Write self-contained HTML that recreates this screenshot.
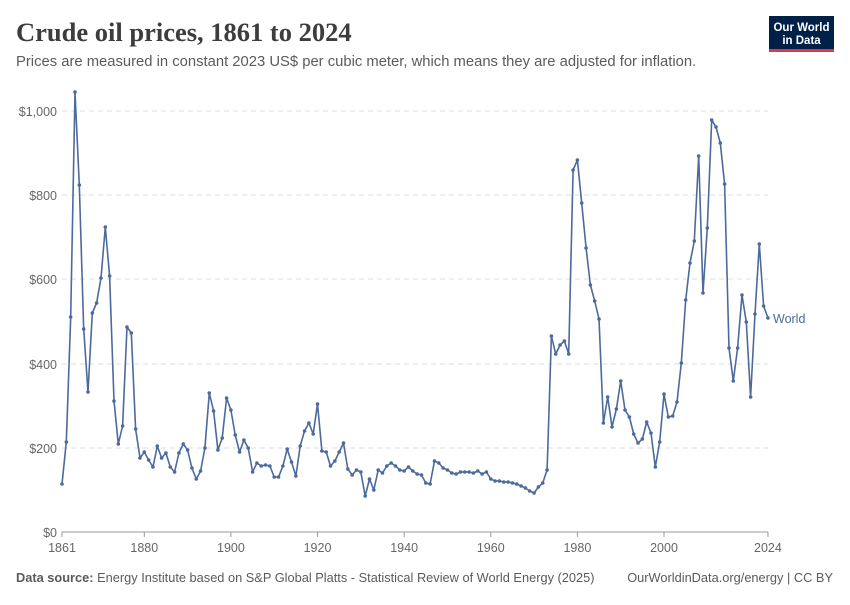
<!DOCTYPE html>
<html><head><meta charset="utf-8"><style>
body{margin:0;background:#fff;width:850px;height:600px;overflow:hidden;font-family:"Liberation Sans",sans-serif}
</style></head><body>
<svg id="s" width="850" height="600" xmlns="http://www.w3.org/2000/svg" font-family="Liberation Sans, sans-serif">
<text x="16" y="41" font-family="Liberation Serif, serif" font-size="26.5" font-weight="bold" fill="#3d3d3d">Crude oil prices, 1861 to 2024</text>
<text x="16" y="66" font-size="14.8" fill="#5b5b5b">Prices are measured in constant 2023 US$ per cubic meter, which means they are adjusted for inflation.</text>
<rect x="769" y="16" width="65" height="36" fill="#002147"/>
<rect x="769" y="49" width="65" height="3" fill="#e0364b"/>
<text x="801.5" y="31" font-size="11.5" font-weight="bold" fill="#fff" text-anchor="middle">Our World</text>
<text x="801.5" y="44" font-size="11.5" font-weight="bold" fill="#fff" text-anchor="middle">in Data</text>
<g stroke="#dddddd" stroke-dasharray="5,4" stroke-width="1">
<line x1="62" x2="768" y1="111" y2="111"/><line x1="62" x2="768" y1="195" y2="195"/>
<line x1="62" x2="768" y1="279" y2="279"/><line x1="62" x2="768" y1="364" y2="364"/>
<line x1="62" x2="768" y1="448" y2="448"/>
</g>
<line x1="62" x2="768" y1="532" y2="532" stroke="#999"/>
<g font-size="12.5" fill="#666" text-anchor="end">
<text x="57" y="116">$1,000</text><text x="57" y="200">$800</text><text x="57" y="284">$600</text>
<text x="57" y="369">$400</text><text x="57" y="453">$200</text><text x="57" y="537">$0</text>
</g>
<g id="tk" stroke="#999"></g>
<g id="tl" font-size="12.5" fill="#666" text-anchor="middle"></g>
<polyline id="ln" fill="none" stroke="#4c6a9c" stroke-width="1.6" stroke-linejoin="round"/>
<g id="dots" fill="#4c6a9c"></g>
<text x="773" y="323" font-size="12.5" fill="#4c6a9c">World</text>
<text x="16" y="582" font-size="12.8" fill="#5b5b5b"><tspan font-weight="bold">Data source:</tspan> Energy Institute based on S&amp;P Global Platts - Statistical Review of World Energy (2025)</text>
<text x="833" y="582" font-size="12.8" fill="#5b5b5b" text-anchor="end">OurWorldinData.org/energy | CC BY</text>
</svg>
<script>
var y=[484,442,317,92,185,329,392,313,303,278,227,276,401,444,426,327,333,429,458,452,460,467,446,458,453,467,472,453,444,450,468,479,471,448,393,411,450,438,398,410,435,452,440,448,472,463,466,465,466,477,477,466,449,462,476,446,431,423,434,404,451,452,466,461,452,443,469,475,470,472,496,479,490,470,473,466,463,466,470,471,467,471,474,475,483,484,461,463,468,470,473,474,472,472,472,473,471,474,472,479,481,481,482,482,483,484,486,488,491,493,487,483,470,336,354,345,341,354,170,160,203,248,285,301,319,423,397,427,409,381,410,417,434,443,439,422,433,467,442,394,417,416,402,363,300,263,241,156,293,228,120,127,143,184,348,381,348,295,322,397,314,244,306,318];
var ns="http://www.w3.org/2000/svg",pts=[],d=document.getElementById("dots");
for(var i=0;i<y.length;i++){var x=62+i*4.331;pts.push(x.toFixed(1)+","+y[i]);
var c=document.createElementNS(ns,"circle");c.setAttribute("cx",x);c.setAttribute("cy",y[i]);c.setAttribute("r",1.8);d.appendChild(c);}
document.getElementById("ln").setAttribute("points",pts.join(" "));
var yrs=[1861,1880,1900,1920,1940,1960,1980,2000,2024],tk=document.getElementById("tk"),tl=document.getElementById("tl");
yrs.forEach(function(v){var x=62+(v-1861)*4.331;var l=document.createElementNS(ns,"line");l.setAttribute("x1",x);l.setAttribute("x2",x);l.setAttribute("y1",532);l.setAttribute("y2",537);tk.appendChild(l);
var t=document.createElementNS(ns,"text");t.setAttribute("x",x);t.setAttribute("y",552);t.textContent=v;tl.appendChild(t);});
</script>
</body></html>
